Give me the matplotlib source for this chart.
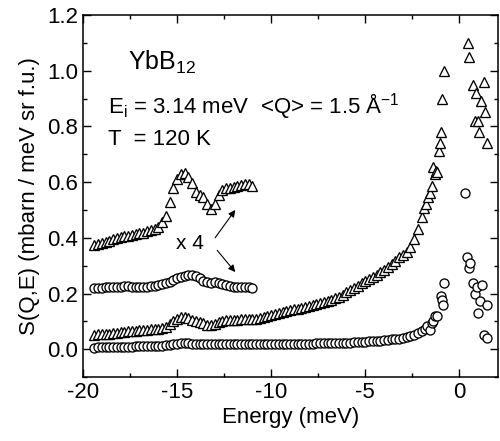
import numpy as np
import matplotlib
matplotlib.use("Agg")
import matplotlib.pyplot as plt

plt.rcParams['font.family'] = ['Liberation Sans', 'DejaVu Sans']
plt.rcParams['mathtext.fontset'] = 'custom'
plt.rcParams['mathtext.rm'] = 'Liberation Sans'
plt.rcParams['mathtext.it'] = 'Liberation Sans:italic'

# ---------------- data ----------------
# regular energy grid for the low-energy (negative) side
energy_grid = np.round(np.arange(-19.4, -1.99, 0.2), 2)   # 88 points, -19.4 ... -2.0

# main triangles on the grid (-19.4 .. -2.0)
tri_grid = [
    0.052, 0.053, 0.054, 0.055, 0.056, 0.057, 0.059,
    0.061, 0.063, 0.064, 0.066, 0.067, 0.068, 0.069, 0.070, 0.071, 0.072,
    0.073, 0.075, 0.080, 0.090, 0.100, 0.108, 0.114, 0.116, 0.112, 0.106,
    0.100, 0.097, 0.095, 0.088, 0.086, 0.092, 0.098, 0.102, 0.104, 0.104,
    0.105, 0.106, 0.107, 0.108, 0.108, 0.108, 0.110, 0.112, 0.115, 0.118,
    0.122, 0.126, 0.130, 0.134, 0.137, 0.140, 0.143, 0.146, 0.149, 0.152,
    0.155, 0.158, 0.162, 0.166, 0.170, 0.174, 0.178, 0.183, 0.188, 0.194,
    0.205, 0.212, 0.220, 0.228, 0.236, 0.244, 0.252, 0.260, 0.268, 0.276,
    0.285, 0.295, 0.305, 0.318, 0.330, 0.340, 0.350, 0.366, 0.395, 0.430,
    0.475,
]
# main triangles near the elastic peak
tri_peak_e = [-1.9, -1.8, -1.65, -1.55, -1.44, -1.38, -1.3, -1.22, -1.17, -1.1,
              -1.05, -1.0, -0.9, -0.8, 0.48, 0.53, 0.7, 0.85, 0.9, 1.0,
              1.06, 1.17, 1.28, 1.38, 1.49]
tri_peak_s = [0.506, 0.52, 0.545, 0.56, 0.585, 0.655, 0.63, 0.64, 0.635, 0.71,
              0.74, 0.78, 0.90, 1.00, 1.10, 1.05, 0.95, 0.82, 0.92, 0.82,
              0.78, 0.89, 0.96, 0.85, 0.74]

# main circles on the grid (-19.4 .. -2.0)
circ_grid = [
    0.006, 0.007, 0.007, 0.007, 0.008, 0.008, 0.008,
    0.008, 0.009, 0.009, 0.009, 0.010, 0.010, 0.010, 0.010, 0.011, 0.011,
    0.012, 0.013, 0.014, 0.016, 0.018, 0.020, 0.021, 0.022, 0.021, 0.020,
    0.019, 0.018, 0.018, 0.017, 0.017, 0.017, 0.018, 0.018, 0.017, 0.017,
    0.017, 0.017, 0.017, 0.017, 0.017, 0.018, 0.018, 0.018, 0.018, 0.018,
    0.018, 0.019, 0.019, 0.019, 0.019, 0.019, 0.020, 0.020, 0.020, 0.020,
    0.020, 0.020, 0.021, 0.021, 0.021, 0.022, 0.022, 0.022, 0.023, 0.023,
    0.024, 0.024, 0.025, 0.026, 0.026, 0.027, 0.028, 0.029, 0.030, 0.031,
    0.032, 0.033, 0.035, 0.036, 0.038, 0.040, 0.043, 0.047, 0.052, 0.058,
    0.065,
]
circ_peak_e = [-1.85, -1.7, -1.56, -1.45, -1.38, -1.28, -1.17, -1.0, -0.9, -0.85,
               -0.8, 0.32, 0.42, 0.53, 0.58, 0.74, 0.85, 0.96, 1.0, 1.12,
               1.22, 1.28, 1.44, 1.49]
circ_peak_s = [0.072, 0.082, 0.070, 0.095, 0.100, 0.118, 0.120, 0.190, 0.175, 0.160,
               0.237, 0.56, 0.33, 0.29, 0.31, 0.237, 0.20, 0.223, 0.13, 0.172,
               0.23, 0.05, 0.04, 0.158]

# magnified (x 4, offset) curves, -19.4 .. -11.0
energy_x4 = np.round(np.arange(-19.4, -10.99, 0.2), 2)   # 43 points
tri_x4 = [
    0.373, 0.377, 0.381, 0.385, 0.390, 0.394, 0.398,
    0.402, 0.405, 0.408, 0.411, 0.414, 0.416, 0.419, 0.423, 0.428, 0.433,
    0.440, 0.455, 0.480, 0.530, 0.580, 0.610, 0.628, 0.632, 0.618, 0.595,
    0.565, 0.552, 0.545, 0.520, 0.505, 0.520, 0.555, 0.572, 0.578, 0.580,
    0.582, 0.586, 0.590, 0.594, 0.592, 0.585,
]
circ_x4 = [
    0.219, 0.220, 0.221, 0.222, 0.223, 0.224, 0.224,
    0.225, 0.226, 0.226, 0.225, 0.224, 0.223, 0.223, 0.224, 0.226, 0.228,
    0.230, 0.233, 0.237, 0.242, 0.248, 0.254, 0.259, 0.262, 0.265, 0.265,
    0.262, 0.255, 0.245, 0.240, 0.238, 0.240, 0.238, 0.235, 0.230, 0.226,
    0.225, 0.224, 0.224, 0.223, 0.222, 0.221,
]

xticks = [-20, -15, -10, -5, 0]
yticks = [0.0, 0.2, 0.4, 0.6, 0.8, 1.0, 1.2]

# ---------------- plot ----------------
fig = plt.figure(figsize=(5.0, 4.41), dpi=100)
ax = fig.add_axes([0.166, 0.145, 0.830, 0.821])

mk = dict(linestyle='none', markerfacecolor='white', markeredgecolor='black',
          markeredgewidth=0.95)

ax.plot(energy_grid, circ_grid, marker='o', markersize=6.5, **mk)
ax.plot(circ_peak_e, circ_peak_s, marker='o', markersize=6.5, **mk)
ax.plot(energy_grid, tri_grid, marker='^', markersize=7, **mk)
ax.plot(tri_peak_e, tri_peak_s, marker='^', markersize=7, **mk)
ax.plot(energy_x4, circ_x4, marker='o', markersize=6.5, **mk)
ax.plot(energy_x4, tri_x4, marker='^', markersize=7, **mk)

ax.set_xlim(-20, 2.05)
ax.set_ylim(-0.1, 1.2)
ax.set_xticks(xticks)
ax.set_xticklabels([str(t) for t in xticks])
ax.set_yticks(yticks)
ax.set_yticklabels([f"{t:.1f}" for t in yticks])
ax.set_xticks(np.arange(-20, 2.1, 2.5), minor=True)
ax.set_yticks(np.arange(-0.1, 1.21, 0.1), minor=True)
ax.tick_params(which='both', direction='in', top=True, right=True, labelsize=16,
               width=1.0)
ax.tick_params(which='major', length=6)
ax.tick_params(which='minor', length=3)
for s in ax.spines.values():
    s.set_linewidth(1.1)

ax.set_xlabel('Energy (meV)', fontsize=16, labelpad=3)
ax.set_ylabel('S(Q,E) (mbarn / meV sr f.u.)', fontsize=16, labelpad=5)

ax.text(-17.6, 1.002, r'YbB$_{\mathrm{12}}$', fontsize=18, va='baseline')
ax.text(-18.67, 0.847, r'E$_{\mathrm{i}}$ = 3.14 meV  <Q> = 1.5 Å$^{\mathrm{-1}}$',
        fontsize=16, va='baseline')
ax.text(-18.67, 0.7325, 'T  = 120 K', fontsize=16, va='baseline')
ax.text(-14.3, 0.38, 'x 4', fontsize=15, va='center', ha='center')

ap = dict(arrowstyle='-|>', lw=0.8, color='black', mutation_scale=10,
          shrinkA=0, shrinkB=0)
ax.annotate('', xy=(-11.91, 0.50), xytext=(-12.98, 0.40), arrowprops=ap)
ax.annotate('', xy=(-11.91, 0.277), xytext=(-12.87, 0.355), arrowprops=ap)

fig.savefig('out.png', dpi=100)
